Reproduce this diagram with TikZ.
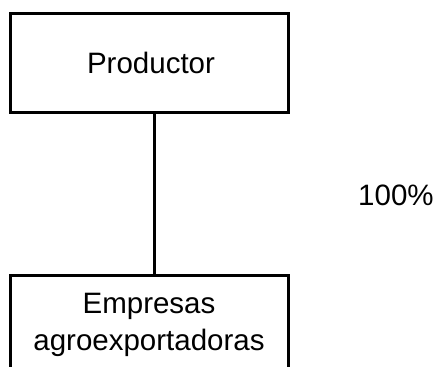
\documentclass[tikz,border=0pt]{standalone}
\usepackage{fontspec}
\setmainfont{Liberation Sans}
\begin{document}
\begin{tikzpicture}[x=1pt,y=1pt,
  box/.style={draw=black, line width=3pt, rectangle, inner sep=0pt},
  lbl/.style={font=\fontsize{29.5}{37}\selectfont, inner sep=0pt, align=center},
  conn/.style={draw=black, line width=3pt}]
\useasboundingbox (0,0) rectangle (437,-367);
\clip (0,0) rectangle (437,-367);
\node[box, minimum width=278pt, minimum height=99pt] (top) at (149,-62.5) {};
\node[lbl, anchor=base] (toptxt) at (151,-73) {Productor};
\node[box, minimum width=278pt, minimum height=110pt] (bot) at (149,-330) {};
\node[lbl, anchor=base] (bottxt1) at (149,-313) {Empresas};
\node[lbl, anchor=base] (bottxt2) at (149,-350) {agroexportadoras};
\node[lbl, anchor=base west] (pct) at (358,-205) {100\%};
\draw[conn] ([xshift=5pt]top.south) -- ([xshift=5pt]bot.north);
\end{tikzpicture}
\end{document}
